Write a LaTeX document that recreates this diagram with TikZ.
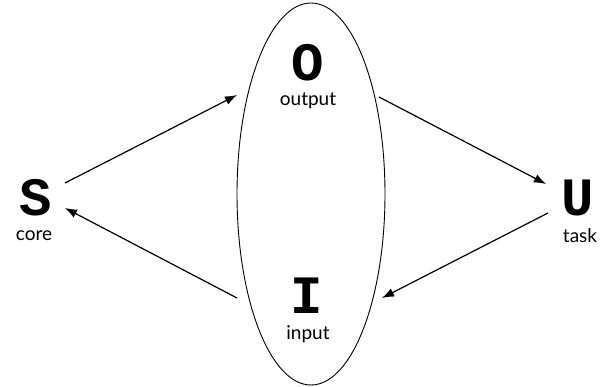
\documentclass[tikz,border=0pt]{standalone}
\usepackage{fontspec}
\setmainfont{Lato}
\newfontfamily\letra{Liberation Mono}
\usetikzlibrary{arrows.meta,positioning}
\tikzset{
  letra/.style={font=\letra\bfseries\fontsize{54}{54}\selectfont,inner sep=0pt},
  rotulo/.style={font=\fontsize{19}{19}\selectfont,inner sep=0pt},
  flecha/.style={-{Latex[length=12pt,width=9pt]},line width=1.2pt}
}
\begin{document}
\begin{tikzpicture}[x=1pt,y=-1pt]
\useasboundingbox (0,0) rectangle (603,387);
% elipse
\draw[line width=0.9pt] (311,194) ellipse [x radius=74, y radius=191];
% letras
\node[letra] (S) at (36,198) {S};
\node[rotulo] (core) at (34,236) {core};
\node[letra] (O) at (308,63) {O};
\node[rotulo] (output) at (308,101) {output};
\node[letra] (I) at (307,296) {I};
\node[rotulo] (input) at (308,334) {input};
\node[letra] (U) at (578,198) {U};
\node[rotulo] (task) at (580,236) {task};
% extremos
\coordinate (s1) at (65,183);
\coordinate (s2) at (65,208);
\coordinate (o1) at (237,95);
\coordinate (o2) at (379,97);
\coordinate (u1) at (546,184);
\coordinate (u2) at (548,213);
\coordinate (i1) at (382,298);
\coordinate (i2) at (237,298);
% flechas
\draw[flecha] (s1) -- (o1);
\draw[flecha] (o2) -- (u1);
\draw[flecha] (u2) -- (i1);
\draw[flecha] (i2) -- (s2);
\end{tikzpicture}
\end{document}
